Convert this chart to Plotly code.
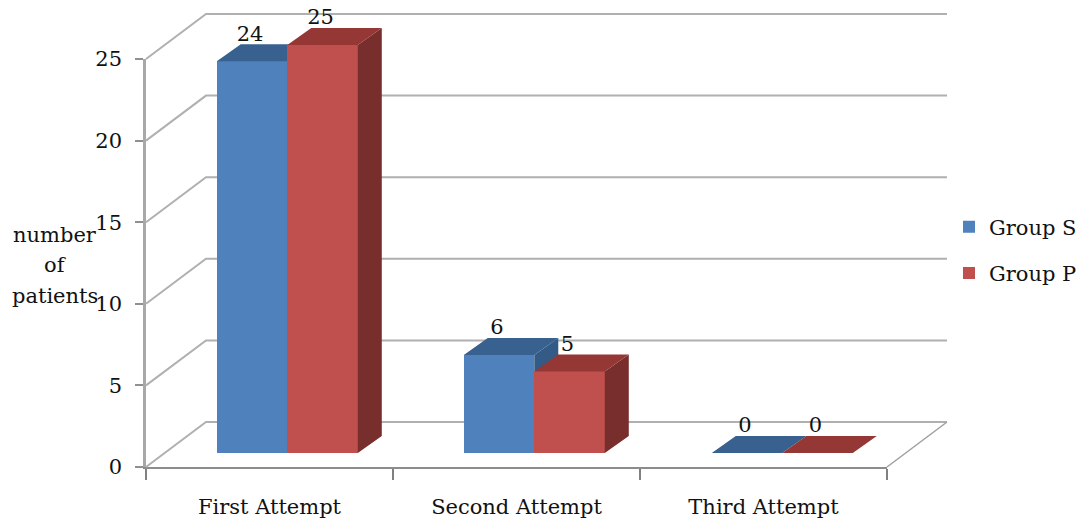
import plotly.graph_objects as go

categories = ["First Attempt", "Second Attempt", "Third Attempt"]
group_s = [24, 6, 0]
group_p = [25, 5, 0]
y_ticks = [0, 5, 10, 15, 20, 25]
y_title_lines = ["number", "of", "patients"]

W, H = 1081, 518
L, R_PX, T, B_PX = 146, 887, 59, 467
UX = (R_PX - L) / 3.0
UY = (B_PX - T) / 25.0
FONT = "DejaVu Serif"
FS = 21
TXT = "#111111"

# oblique projection, in data units
WALL_DX, WALL_DY = 60 / UX, 45 / UY
BAR_DX, BAR_DY = 24 / UX, 17 / UY
LIFT = 14 / UY
BAR_W = 70.5 / UX

# full-page axes share the scale of the visible axes, so depth faces are not clipped
FULL_X = [-L / UX, (W - L) / UX]
FULL_Y = [-(H - B_PX) / UY, B_PX / UY]


def faces(values, sign):
    top_x, top_y, side_x, side_y, centers = [], [], [], [], []
    for i, v in enumerate(values):
        c = i + 0.572 + (0.004 if i == 2 else 0)
        xl = c if sign > 0 else c - BAR_W
        xr = xl + BAR_W
        t = v + LIFT
        top_x += [xl, xr, xr + BAR_DX, xl + BAR_DX, xl, None]
        top_y += [t, t, t + BAR_DY, t + BAR_DY, t, None]
        if v > 0:
            side_x += [xr, xr + BAR_DX, xr + BAR_DX, xr, xr, None]
            side_y += [LIFT, LIFT + BAR_DY, t + BAR_DY, t, LIFT, None]
        centers.append(xl + BAR_W / 2)
    return top_x, top_y, side_x, side_y, centers


fig = go.Figure()

# anchors the visible axes
fig.add_trace(go.Scatter(x=[0], y=[0], mode="none", showlegend=False, hoverinfo="skip"))

# wall and floor lines
for v in y_ticks:
    fig.add_trace(go.Scatter(
        x=[0, WALL_DX, 3 + WALL_DX], y=[v, v + WALL_DY, v + WALL_DY],
        mode="lines", line=dict(color="#b0b0b0", width=2),
        showlegend=False, hoverinfo="skip", xaxis="x2", yaxis="y2"))
fig.add_trace(go.Scatter(
    x=[3, 3 + WALL_DX], y=[0, WALL_DY], mode="lines",
    line=dict(color="#a0a0a0", width=1.5),
    showlegend=False, hoverinfo="skip", xaxis="x2", yaxis="y2"))


def add_series(name, values, sign, front, top, side, xa, ya):
    tx, ty, sx, sy, cs = faces(values, sign)
    fig.add_trace(go.Bar(
        x=cs, y=values, base=LIFT, width=BAR_W, name=name,
        marker=dict(color=front, line=dict(width=0)),
        xaxis=xa, yaxis=ya, legendgroup=name))
    fig.add_trace(go.Scatter(
        x=sx, y=sy, mode="lines", fill="toself", fillcolor=side,
        line=dict(width=0, color=side), showlegend=False,
        hoverinfo="skip", xaxis=xa, yaxis=ya))
    fig.add_trace(go.Scatter(
        x=tx, y=ty, mode="lines", fill="toself", fillcolor=top,
        line=dict(width=0, color=top), showlegend=False,
        hoverinfo="skip", xaxis=xa, yaxis=ya))
    return cs


cs_s = add_series("Group S", group_s, -1, "#4F81BD", "#38618F", "#345A86", "x3", "y3")
cs_p = add_series("Group P", group_p, 1, "#C0504D", "#953735", "#772E2C", "x4", "y4")

# value labels
fig.add_trace(go.Scatter(
    x=[c - 2 / UX for c in cs_s + cs_p],
    y=[v + LIFT + 26 / UY for v in group_s + group_p],
    text=[str(v) for v in group_s + group_p],
    mode="text", textposition="middle center",
    textfont=dict(family=FONT, size=FS, color=TXT),
    showlegend=False, hoverinfo="skip",
    xaxis="x4", yaxis="y4"))


def full_x(anchor):
    return dict(range=FULL_X, domain=[0, 1], anchor=anchor, visible=False)


def full_y(anchor):
    return dict(range=FULL_Y, domain=[0, 1], anchor=anchor, visible=False)


fig.update_layout(
    width=W, height=H, autosize=False,
    paper_bgcolor="white", plot_bgcolor="rgba(0,0,0,0)",
    margin=dict(l=0, r=0, t=0, b=0, autoexpand=False),
    bargap=0,
    showlegend=True,
    legend=dict(
        x=949 / W, xanchor="left",
        y=(H - 250) / H, yanchor="middle",
        font=dict(family=FONT, size=FS, color=TXT),
        traceorder="grouped", tracegroupgap=16,
        bgcolor="rgba(0,0,0,0)", itemclick=False, itemdoubleclick=False),
    xaxis=dict(
        domain=[L / W, R_PX / W], range=[0, 3],
        tickvals=[0.5, 1.5, 2.5], ticktext=categories,
        ticks="", ticklabelstandoff=20,
        tickfont=dict(family=FONT, size=FS, color=TXT),
        minor=dict(tickvals=[0, 1, 2, 3], ticks="outside", ticklen=11,
                   tickcolor="#808080", tickwidth=1.5, showgrid=False),
        showgrid=False, zeroline=False, showline=True,
        linecolor="#8c8c8c", linewidth=2),
    yaxis=dict(
        domain=[(H - B_PX) / H, (H - T) / H], range=[0, 25], tickvals=y_ticks,
        ticks="outside", ticklen=8, tickcolor="#909090", tickwidth=1.5,
        ticklabelstandoff=9,
        tickfont=dict(family=FONT, size=FS, color=TXT),
        showgrid=False, zeroline=False, showline=True,
        linecolor="#a8a8a8", linewidth=2.5),
    xaxis2=full_x("y2"), yaxis2=full_y("x2"),
    xaxis3=full_x("y3"), yaxis3=full_y("x3"),
    xaxis4=full_x("y4"), yaxis4=full_y("x4"),
    annotations=[
        dict(text=t, xref="paper", yref="paper",
             x=55 / W, y=(H - py) / H,
             xanchor="center", yanchor="middle", showarrow=False,
             font=dict(family=FONT, size=FS, color=TXT))
        for t, py in zip(y_title_lines, [235, 265, 296])
    ],
)

fig.write_html("out.html", config={"displayModeBar": False},
               post_script="document.body.style.margin='0';document.body.style.overflow='hidden';")
